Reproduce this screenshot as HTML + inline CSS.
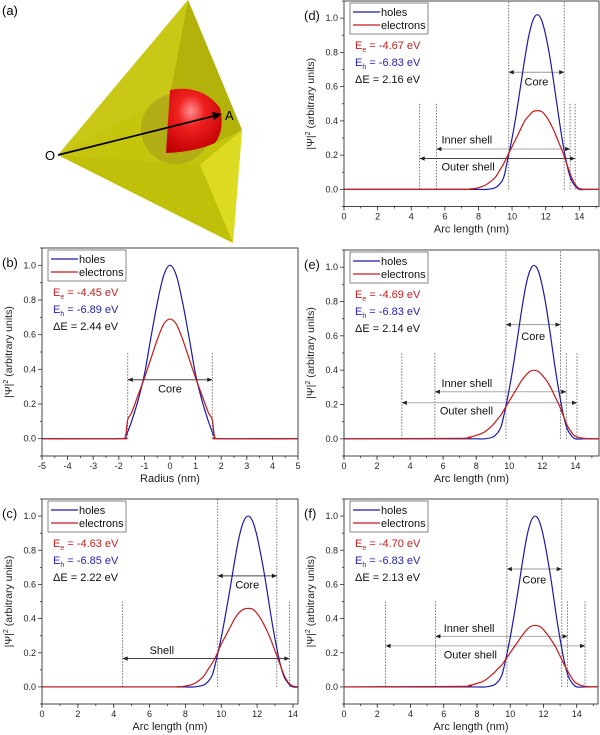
<!DOCTYPE html>
<html><head><meta charset="utf-8"><style>
html,body{margin:0;padding:0;background:#fff;}
svg{display:block;font-family:"Liberation Sans",Arial,sans-serif;}
</style></head><body>
<svg id="fig" width="600" height="735" viewBox="0 0 600 735" xmlns="http://www.w3.org/2000/svg">
<defs>
  <radialGradient id="redg" cx="0.45" cy="0.35" r="0.7">
    <stop offset="0" stop-color="#ff9090"/>
    <stop offset="0.35" stop-color="#f02020"/>
    <stop offset="1" stop-color="#c00000"/>
  </radialGradient>
</defs>
<g>
  <polygon points="188,0 58,155 233,243 242,130" fill="#c6c50e"/>
  <polygon points="188,0 242,130 205,148 170,95" fill="#b3b20a"/>
  <polygon points="188,0 170,95 58,155" fill="#c9c816"/>
  <polygon points="200,165 242,130 233,243" fill="#dcdb22"/>
  <polygon points="58,155 200,165 233,243" fill="#c0bf0a"/>
  <circle cx="176" cy="129" r="35" fill="#9a8f20" opacity="0.45"/>
  <path d="M170,90 Q202,84 220,108 Q225,130 215,143 Q195,152 166,153 Z" fill="url(#redg)"/>
  <line x1="58" y1="155" x2="214" y2="116" stroke="#000" stroke-width="1.8"/>
  <polygon points="222,114 212,112 214,120" fill="#000"/>
  <text x="45" y="160" font-size="13">O</text>
  <text x="225" y="120" font-size="13">A</text>
  <text x="2" y="15" font-size="13">(a)</text>
</g>
</svg>
<script>
// ---- data ----
const arcX = [0,7,7.5,8,8.5,9,9.25,9.5,9.75,10,10.25,10.5,10.75,11,11.25,11.5,11.75,12,12.25,12.5,12.75,13,13.25,13.5,13.75,14,14.5,15.4];
const holesD = [0,0,0,0,0,0.01,0.03,0.07,0.18,0.30,0.44,0.60,0.76,0.90,0.99,1.02,0.99,0.90,0.77,0.61,0.44,0.28,0.15,0.06,0.02,0,0,0];
const elecD  = [0,0,0.003,0.01,0.03,0.07,0.11,0.15,0.2,0.25,0.3,0.35,0.4,0.43,0.455,0.46,0.455,0.43,0.39,0.34,0.28,0.22,0.15,0.08,0.03,0.005,0,0];
const holesC = [0,0,0,0,0,0.01,0.03,0.07,0.17,0.29,0.43,0.58,0.74,0.88,0.97,1.0,0.97,0.88,0.75,0.6,0.43,0.28,0.15,0.06,0.02,0,0,0];
const elecC  = [0,0,0,0.005,0.02,0.06,0.1,0.14,0.19,0.25,0.3,0.35,0.4,0.435,0.455,0.46,0.455,0.43,0.39,0.34,0.28,0.21,0.14,0.07,0.025,0.005,0,0];
const holesE = [0,0,0,0,0,0.01,0.03,0.07,0.17,0.29,0.43,0.59,0.75,0.89,0.98,1.01,0.98,0.89,0.76,0.6,0.43,0.28,0.15,0.06,0.02,0,0,0];
const elecE  = [0,0.003,0.008,0.02,0.04,0.08,0.11,0.14,0.18,0.22,0.26,0.30,0.34,0.37,0.393,0.40,0.393,0.37,0.34,0.30,0.25,0.2,0.14,0.08,0.04,0.015,0.003,0];
const holesF = [0,0,0,0,0,0.01,0.03,0.07,0.17,0.29,0.43,0.58,0.74,0.88,0.97,1.0,0.97,0.88,0.75,0.6,0.43,0.28,0.15,0.06,0.02,0,0,0];
const elecF  = [0,0.003,0.008,0.02,0.04,0.08,0.105,0.13,0.165,0.2,0.235,0.27,0.305,0.335,0.355,0.36,0.355,0.335,0.305,0.27,0.23,0.18,0.13,0.085,0.045,0.02,0.003,0];
const radX   = [-5,-2,-1.75,-1.65,-1.5,-1.25,-1,-0.75,-0.5,-0.25,0,0.25,0.5,0.75,1,1.25,1.5,1.65,1.75,2,5];
const holesB = [0,0,0.01,0.04,0.1,0.22,0.37,0.58,0.78,0.94,1.0,0.94,0.78,0.58,0.37,0.22,0.1,0.04,0.01,0,0];
const elecB  = [0,0,0.01,0.11,0.15,0.25,0.35,0.46,0.57,0.66,0.69,0.66,0.57,0.46,0.35,0.25,0.15,0.11,0.01,0,0];
const yTicks = [0,0.2,0.4,0.6,0.8,1.0];
const yTickLabels = ["0.0","0.2","0.4","0.6","0.8","1.0"];
const arcTicks = [0,2,4,6,8,10,12,14];
const radTicks = [-5,-4,-3,-2,-1,0,1,2,3,4,5];
const energiesB = ["-4.45","-6.89","2.44"];
const energiesC = ["-4.63","-6.85","2.22"];
const energiesD = ["-4.67","-6.83","2.16"];
const energiesE = ["-4.69","-6.83","2.14"];
const energiesF = ["-4.70","-6.83","2.13"];

const NS = "http://www.w3.org/2000/svg";
const svg = document.getElementById('fig');
function mk(tag, attrs, parent, text){
  const e = document.createElementNS(NS, tag);
  for (const k in attrs) e.setAttribute(k, attrs[k]);
  if (text !== undefined) e.textContent = text;
  parent.appendChild(e); return e;
}
function smoothPath(pts){
  let d = "M"+pts[0][0].toFixed(2)+","+pts[0][1].toFixed(2);
  for (let i=0;i<pts.length-1;i++){
    const p0=pts[Math.max(0,i-1)], p1=pts[i], p2=pts[i+1], p3=pts[Math.min(pts.length-1,i+2)];
    const c1=[p1[0]+(p2[0]-p0[0])/6, p1[1]+(p2[1]-p0[1])/6];
    const c2=[p2[0]-(p3[0]-p1[0])/6, p2[1]-(p3[1]-p1[1])/6];
    d += " C"+c1[0].toFixed(2)+","+c1[1].toFixed(2)+" "+c2[0].toFixed(2)+","+c2[1].toFixed(2)+" "+p2[0].toFixed(2)+","+p2[1].toFixed(2);
  }
  return d;
}

function panel(cfg){
  const g = mk('g', {}, svg);
  
  
  const L=cfg.left, R=cfg.right, T=cfg.top, B=cfg.bottom;
  const ymin=-0.1, ymax=1.1;
  const sx = v => L + (v-cfg.xmin)/(cfg.xmax-cfg.xmin)*(R-L);
  const sy = v => B - (v-ymin)/(ymax-ymin)*(B-T);
  const clipId = 'clip-'+cfg.id;
  const cp = mk('clipPath', {id:clipId}, g);
  mk('rect', {x:L, y:T, width:R-L, height:B-T}, cp);

  for (let v=-0.1; v<=1.101; v+=0.1){
    const major = Math.abs(Math.round(v*10)%2)===0;
    mk('line', {x1:L-(major?4:2), x2:L, y1:sy(v), y2:sy(v), stroke:'#333', 'stroke-width':0.8}, g);
  }
  yTicks.forEach((v,i)=>{
    const t = mk('text', {x:L-6, y:sy(v)+3, 'font-size':9, 'text-anchor':'end', fill:'#222'}, g, yTickLabels[i]);
    
    
  });
  const step = cfg.minorStep;
  for (let v=Math.ceil(cfg.xmin/step)*step; v<=cfg.xmax+1e-6; v+=step){
    mk('line', {x1:sx(v), x2:sx(v), y1:B, y2:B+2, stroke:'#333', 'stroke-width':0.8}, g);
  }
  cfg.ticks.forEach(v=>{
    mk('line', {x1:sx(v), x2:sx(v), y1:B, y2:B+4, stroke:'#333', 'stroke-width':0.8}, g);
    const t = mk('text', {x:sx(v), y:B+13, 'font-size':9, 'text-anchor':'middle', fill:'#222'}, g, String(v));
    
    
  });
  const xt = mk('text', {x:(L+R)/2, y:B+26, 'font-size':11, 'text-anchor':'middle', fill:'#222'}, g, cfg.xlabel);
  
  
  const ycx = L-30, ycy=(T+B)/2;
  const yt = mk('text', {x:ycx, y:ycy, 'font-size':10.5, 'text-anchor':'middle', fill:'#222', transform:'rotate(-90 '+ycx+' '+ycy+')'}, g);
  
  
  yt.innerHTML = '|\u03A8|<tspan font-size="7" dy="-4">2</tspan><tspan dy="4"> (arbitrary units)</tspan>';
  const pl = mk('text', {x:L-40, y:T+19, 'font-size':13, fill:'#111'}, g, '('+cfg.id+')');
  
  

  const gd = mk('g', {'clip-path':'url(#'+clipId+')'}, g);
  cfg.vlines.forEach(v=>{
    const l = mk('line', {x1:sx(v[0]), x2:sx(v[0]), y1:sy(0), y2:sy(v[1]), stroke:'#555', 'stroke-width':0.8, 'stroke-dasharray':'1.5,1.5'}, gd);
    
    
  });
  cfg.arrows.forEach(a=>{
    const y=sy(a.y), x1=sx(a.x1), x2=sx(a.x2);
    const ag = mk('g', {}, gd);
    
    
    mk('line', {x1:x1, x2:x2, y1:y, y2:y, stroke:a.c||'#444', 'stroke-width':1}, ag);
    mk('polygon', {points:x1+','+y+' '+(x1+5)+','+(y-2.2)+' '+(x1+5)+','+(y+2.2), fill:'#222'}, ag);
    mk('polygon', {points:x2+','+y+' '+(x2-5)+','+(y-2.2)+' '+(x2-5)+','+(y+2.2), fill:'#222'}, ag);
    const t = mk('text', {x:a.lx!==undefined?sx(a.lx):(x1+x2)/2, y:sy(a.ly)+4, 'font-size':11, 'text-anchor':a.lx!==undefined?'start':'middle', fill:'#111'}, ag, a.label);
    
    
  });

  const gs = mk('g', {'clip-path':'url(#'+clipId+')'}, g);
  const hp = mk('path', {d:smoothPath(cfg.x.map((v,i)=>[sx(v),sy(cfg.holes[i])])), fill:'none', stroke:'#1a1aa8', 'stroke-width':1.2}, gs);
  
  
  const ep = mk('path', {d:smoothPath(cfg.x.map((v,i)=>[sx(v),sy(cfg.elec[i])])), fill:'none', stroke:'#c41a1a', 'stroke-width':1.2}, gs);
  
  

  const fr = mk('rect', {x:L, y:T, width:R-L, height:B-T, fill:'none', stroke:'#333', 'stroke-width':0.9}, g);
  
  

  const lg = mk('g', {}, g);
  
  
  mk('rect', {x:L+6, y:T+2, width:78, height:31, fill:'#fff', stroke:'#666', 'stroke-width':0.8}, lg);
  mk('line', {x1:L+9, x2:L+36, y1:T+11, y2:T+11, stroke:'#1a1aa8', 'stroke-width':1.2}, lg);
  const l1 = mk('text', {x:L+37, y:T+15, 'font-size':11, fill:'#111'}, lg, 'holes');
  
  
  mk('line', {x1:L+9, x2:L+36, y1:T+24, y2:T+24, stroke:'#c41a1a', 'stroke-width':1.2}, lg);
  const l2 = mk('text', {x:L+37, y:T+28, 'font-size':11, fill:'#111'}, lg, 'electrons');
  
  

  const en = cfg.energies;
  const e1 = mk('text', {x:L+11, y:T+48, 'font-size':11, fill:'#c02020'}, g);
  e1.innerHTML = 'E<tspan font-size="7" dy="3">e</tspan><tspan dy="-3"> = '+en[0]+' eV</tspan>';
  
  
  const e2 = mk('text', {x:L+11, y:T+65, 'font-size':11, fill:'#2424b0'}, g);
  e2.innerHTML = 'E<tspan font-size="7" dy="3">h</tspan><tspan dy="-3"> = '+en[1]+' eV</tspan>';
  
  
  const e3 = mk('text', {x:L+11, y:T+82, 'font-size':11, fill:'#111'}, g, '\u0394E = '+en[2]+' eV');
  
  
}

panel({id:'b', left:42, right:298, top:248, bottom:456, xmin:-5, xmax:5, minorStep:0.5, ticks:radTicks, xlabel:'Radius (nm)',
  x:radX, holes:holesB, elec:elecB, energies:energiesB,
  vlines:[[-1.65,0.5],[1.65,0.5]],
  arrows:[{x1:-1.65,x2:1.65,y:0.34,label:'Core',ly:0.29,c:'#444'}]});
panel({id:'c', left:42, right:298, top:499, bottom:704, xmin:0, xmax:14.28, minorStep:1, ticks:arcTicks, xlabel:'Arc length (nm)',
  x:arcX, holes:holesC, elec:elecC, energies:energiesC,
  vlines:[[9.8,1.1],[13.1,1.1],[4.5,0.5],[13.8,0.5]],
  arrows:[{x1:9.8,x2:13.1,y:0.65,label:'Core',ly:0.6,c:'#444'},
          {x1:4.5,x2:13.8,y:0.166,label:'Shell',lx:6.0,ly:0.215,c:'#444'}]});
panel({id:'d', left:344, right:599, top:1, bottom:206.5, xmin:0, xmax:15.17, minorStep:1, ticks:arcTicks, xlabel:'Arc length (nm)',
  x:arcX, holes:holesD, elec:elecD, energies:energiesD,
  vlines:[[9.8,1.1],[13.1,1.1],[5.5,0.5],[13.45,0.5],[4.5,0.5],[13.75,0.5]],
  arrows:[{x1:9.8,x2:13.1,y:0.684,label:'Core',ly:0.63,c:'#999'},
          {x1:5.5,x2:13.45,y:0.236,label:'Inner shell',lx:5.8,ly:0.29,c:'#aaa'},
          {x1:4.5,x2:13.75,y:0.18,label:'Outer shell',lx:5.8,ly:0.135,c:'#444'}]});
panel({id:'e', left:344, right:599, top:250, bottom:456, xmin:0, xmax:15.43, minorStep:1, ticks:arcTicks, xlabel:'Arc length (nm)',
  x:arcX, holes:holesE, elec:elecE, energies:energiesE,
  vlines:[[9.8,1.1],[13.1,1.1],[5.5,0.5],[13.45,0.5],[3.5,0.5],[14.1,0.5]],
  arrows:[{x1:9.8,x2:13.1,y:0.665,label:'Core',ly:0.6,c:'#999'},
          {x1:5.5,x2:13.45,y:0.274,label:'Inner shell',lx:5.9,ly:0.325,c:'#aaa'},
          {x1:3.5,x2:14.1,y:0.21,label:'Outer shell',lx:5.8,ly:0.165,c:'#aaa'}]});
panel({id:'f', left:344, right:598, top:499, bottom:704, xmin:0, xmax:15.28, minorStep:1, ticks:arcTicks, xlabel:'Arc length (nm)',
  x:arcX, holes:holesF, elec:elecF, energies:energiesF,
  vlines:[[9.8,1.1],[13.1,1.1],[5.5,0.5],[13.45,0.5],[2.5,0.5],[14.5,0.5]],
  arrows:[{x1:9.8,x2:13.1,y:0.69,label:'Core',ly:0.63,c:'#999'},
          {x1:5.5,x2:13.45,y:0.296,label:'Inner shell',lx:6.0,ly:0.345,c:'#aaa'},
          {x1:2.5,x2:14.5,y:0.24,label:'Outer shell',lx:6.0,ly:0.19,c:'#aaa'}]});
</script>
</body></html>
